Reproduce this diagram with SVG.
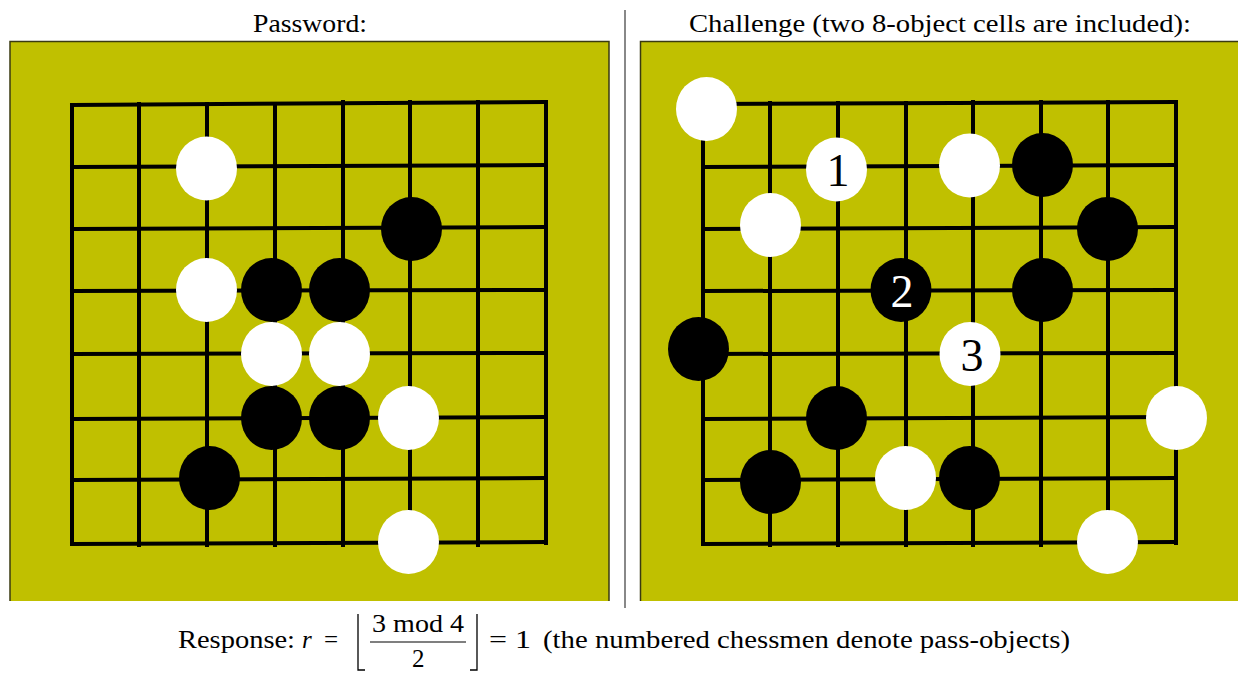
<svg xmlns="http://www.w3.org/2000/svg" width="1238" height="673" viewBox="0 0 1238 673">
<style>
.t{font-family:"Liberation Serif",serif;font-size:25px;fill:#000}
.board{fill:#c0c000}
.edge{fill:none;stroke:#3a3a10;stroke-width:1.5}
.g{stroke:#000;stroke-width:4;stroke-linecap:square;fill:none}
.w{fill:#fff}
.b{fill:#000}
.num{font-family:"Liberation Serif",serif;font-size:46px;text-anchor:middle}
.br{stroke:#000;stroke-width:1.3;fill:none}
</style>
<rect width="1238" height="673" fill="#fff"/>
<text class="t" x="253" y="32" textLength="114" lengthAdjust="spacingAndGlyphs">Password:</text>
<text class="t" x="689" y="32" textLength="502" lengthAdjust="spacingAndGlyphs">Challenge (two 8-object cells are included):</text>
<line x1="625" y1="10" x2="625" y2="608" stroke="#888" stroke-width="2"/>

<g id="password-board">
<rect class="board" x="10" y="41" width="599" height="560"/>
<polyline class="edge" points="10,601 10,41.5 609,41.5 609,601"/>
<g id="password-grid" class="g">
<path d="M72,105 L546,102 M72,167 L546,165 M72,229 L546,227 M72,291 L546,290 M72,354 L546,353 M72,419 L546,417 M72,480 L546,478 M72,544 L546,542"/>
<path d="M72,105 L72,544 M139,104 L139,545 M207,104 L207,545 M275,104 L275,545 M343,102 L343,545 M410,102 L410,545 M478,102 L478,545 M546,102 L546,543"/>
</g>
<g id="password-stones">
<ellipse class="w" cx="206.5" cy="168.5" rx="30.5" ry="32"/>
<ellipse class="b" cx="411.5" cy="229" rx="30.5" ry="32"/>
<ellipse class="w" cx="206.5" cy="290" rx="30.5" ry="32"/>
<ellipse class="b" cx="271.5" cy="290" rx="30.5" ry="32"/>
<ellipse class="b" cx="339.5" cy="290" rx="30.5" ry="32"/>
<ellipse class="w" cx="271.5" cy="354" rx="30.5" ry="32"/>
<ellipse class="w" cx="339.5" cy="354" rx="30.5" ry="32"/>
<ellipse class="b" cx="271.5" cy="418" rx="30.5" ry="32"/>
<ellipse class="b" cx="339.5" cy="418" rx="30.5" ry="32"/>
<ellipse class="w" cx="408.5" cy="418" rx="30.5" ry="32"/>
<ellipse class="b" cx="209.5" cy="478" rx="30.5" ry="32"/>
<ellipse class="w" cx="408.5" cy="542" rx="30.5" ry="32"/>
</g>
</g>

<g id="challenge-board">
<rect class="board" x="640" y="41" width="598" height="560"/>
<polyline class="edge" points="640.5,601 640.5,41.5 1238,41.5"/>
<g id="challenge-grid" class="g">
<path d="M703,104 L1176,102 M703,167 L1176,165 M703,229 L1176,227 M703,291 L1176,290 M703,354 L1176,353 M703,419 L1176,417 M703,480 L1176,478 M703,544 L1176,542"/>
<path d="M703,104 L703,544 M770,103 L770,545 M838,103 L838,545 M906,103 L906,545 M973,102 L973,545 M1041,102 L1041,545 M1108,102 L1108,545 M1176,102 L1176,543"/>
</g>
<g id="challenge-stones">
<ellipse class="w" cx="706.5" cy="109" rx="30.5" ry="32"/>
<ellipse class="w" cx="836.5" cy="169.5" rx="30.5" ry="32"/>
<ellipse class="w" cx="969.5" cy="165.5" rx="30.5" ry="32"/>
<ellipse class="b" cx="1042.5" cy="165" rx="30.5" ry="32"/>
<ellipse class="w" cx="770.5" cy="225" rx="30.5" ry="32"/>
<ellipse class="b" cx="1107.5" cy="229" rx="30.5" ry="32"/>
<ellipse class="b" cx="901" cy="290" rx="30.5" ry="32"/>
<ellipse class="b" cx="1042.5" cy="290" rx="30.5" ry="32"/>
<ellipse class="b" cx="698.5" cy="349" rx="30.5" ry="32"/>
<ellipse class="w" cx="970" cy="354" rx="30.5" ry="32"/>
<ellipse class="b" cx="836.5" cy="418" rx="30.5" ry="32"/>
<ellipse class="w" cx="1176.5" cy="418" rx="30.5" ry="32"/>
<ellipse class="b" cx="770.5" cy="482" rx="30.5" ry="32"/>
<ellipse class="w" cx="905.5" cy="478" rx="30.5" ry="32"/>
<ellipse class="b" cx="969.5" cy="478" rx="30.5" ry="32"/>
<ellipse class="w" cx="1107.5" cy="542" rx="30.5" ry="32"/>
<text class="num" x="838" y="186" fill="#000">1</text>
<text class="num" x="902" y="307" fill="#fff">2</text>
<text class="num" x="972" y="371" fill="#000">3</text>
</g>
</g>

<g id="response">
<text class="t" x="178" y="648" textLength="117" lengthAdjust="spacingAndGlyphs">Response:</text>
<text class="t" x="302" y="648" font-style="italic">r</text>
<text class="t" x="324" y="648">=</text>
<path class="br" d="M358,614 L358,670 L365,670"/>
<text class="t" x="372" y="632" textLength="92" lengthAdjust="spacingAndGlyphs">3 mod 4</text>
<line x1="370" y1="642" x2="466" y2="642" stroke="#000" stroke-width="1.2"/>
<text class="t" x="412" y="667">2</text>
<path class="br" d="M470,670 L477,670 L477,614"/>
<text class="t" x="489" y="648" textLength="42" lengthAdjust="spacingAndGlyphs">= 1</text>
<text class="t" x="543" y="648" textLength="527" lengthAdjust="spacingAndGlyphs">(the numbered chessmen denote pass-objects)</text>
</g>
</svg>
